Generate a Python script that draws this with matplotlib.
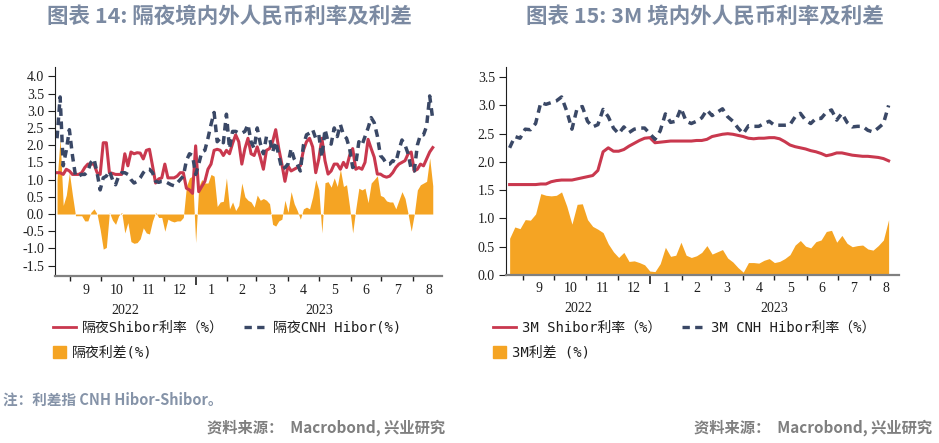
import numpy as np
import pandas as pd
import matplotlib
matplotlib.use("Agg")
import matplotlib.pyplot as plt
import matplotlib.dates as mdates
import matplotlib.transforms as mtransforms
from matplotlib.lines import Line2D
from matplotlib.patches import Patch
from matplotlib.font_manager import FontProperties
from matplotlib.ticker import NullFormatter

plt.rcParams['font.family'] = ['Noto Sans CJK SC', 'DejaVu Sans']

# overnight rates, one reading every 3 days from 2022-08-19
on_shibor = [1.2, 1.2, 1.15, 1.3, 1.25, 1.15, 1.15, 1.15, 1.2, 1.35,
             1.45, 1.45, 1.45, 1.2, 1.15, 2.07, 2.07, 1.2, 1.18, 1.15,
             1.15, 1.15, 1.75, 1.4, 1.8, 1.75, 1.78, 1.77, 1.6, 1.85,
             1.88, 1.4, 0.9, 1.02, 1.05, 1.45, 1.05, 1.05, 1.05, 1.1,
             1.2, 1.2, 0.75, 0.7, 0.6, 1.98, 0.65, 0.8, 0.95, 1.3,
             1.45, 1.85, 1.88, 1.85, 1.7, 1.85, 1.75, 2.05, 2.3, 2.1,
             1.45, 1.9, 2.2, 1.75, 1.7, 1.95, 1.65, 1.3, 1.85, 1.9,
             2.1, 2.45, 1.9, 1.45, 0.95, 1.4, 1.25, 1.3, 1.35, 1.4,
             1.85, 2.1, 2.2, 1.95, 1.2, 1.6, 2.2, 1.55, 1.16, 1.25,
             1.45, 1.45, 1.3, 1.5, 1.35, 1.7, 1.9, 1.3, 1.35, 1.3,
             1.5, 2.17, 1.9, 1.65, 1.16, 1.16, 1.1, 1.07, 1.1, 1.2,
             1.35, 1.45, 1.5, 1.55, 1.75, 1.8, 1.25, 1.3, 1.45, 1.4,
             1.6, 1.8, 1.93]
on_hibor = [2.2, 3.4, 1.4, 1.85, 2.45, 1.7, 1.1, 1.1, 1.15, 1.15,
            1.25, 1.5, 1.6, 1.2, 0.7, 1.05, 1.1, 1.25, 1.0, 0.85,
            1.1, 1.2, 1.2, 1.15, 1.0, 0.9, 0.95, 1.05, 1.2, 1.3,
            1.3, 1.2, 0.95, 0.92, 0.95, 0.95, 0.9, 0.85, 0.82, 0.9,
            1.0, 1.1, 1.55, 1.75, 1.7, 1.15, 1.45, 1.8, 1.85, 2.2,
            2.6, 2.95, 2.1, 2.2, 2.07, 2.9, 1.9, 2.4, 2.4, 2.35,
            2.35, 2.4, 2.6, 2.1, 1.9, 2.5, 2.05, 1.75, 2.25, 2.2,
            1.8, 2.1, 1.7, 1.3, 1.35, 1.45, 1.9, 1.6, 1.45, 1.25,
            2.0, 2.3, 2.35, 2.45, 2.2, 2.3, 1.65, 2.46, 2.1, 2.03,
            2.5, 2.25, 2.6, 2.3, 2.2, 1.9, 1.35, 1.45, 2.1, 2.0,
            2.25, 2.5, 2.8, 2.65, 2.27, 1.7, 1.6, 1.45, 1.45, 1.55,
            1.5, 1.85, 2.15, 2.0, 1.75, 1.3, 1.25, 2.0, 2.3, 2.3,
            2.55, 3.43, 2.75]

# 3M rates, one reading every 5 days from 2022-08-19
m3_shibor = [1.6, 1.6, 1.6, 1.6, 1.6, 1.6, 1.61, 1.61, 1.65, 1.67,
             1.68, 1.68, 1.68, 1.7, 1.72, 1.74, 1.76, 1.85, 2.18, 2.25,
             2.19, 2.19, 2.22, 2.28, 2.33, 2.38, 2.42, 2.43, 2.34, 2.35,
             2.36, 2.37, 2.37, 2.37, 2.37, 2.37, 2.38, 2.38, 2.4, 2.45,
             2.47, 2.49, 2.5, 2.49, 2.47, 2.45, 2.42, 2.41, 2.42, 2.42,
             2.43, 2.43, 2.41, 2.36, 2.3, 2.27, 2.25, 2.23, 2.2, 2.18,
             2.15, 2.11, 2.13, 2.16, 2.16, 2.14, 2.12, 2.11, 2.1, 2.1,
             2.09, 2.08, 2.06, 2.02]
m3_hibor = [2.25, 2.45, 2.42, 2.58, 2.57, 2.68, 3.05, 3.02, 3.05, 3.08,
            3.15, 2.9, 2.58, 2.95, 2.98, 2.72, 2.62, 2.66, 2.93, 2.8,
            2.6, 2.5, 2.62, 2.52, 2.58, 2.6, 2.6, 2.5, 2.4, 2.55,
            2.85, 2.7, 2.72, 2.95, 2.72, 2.68, 2.72, 2.78, 2.92, 2.82,
            2.88, 2.94, 2.8, 2.72, 2.6, 2.5, 2.64, 2.63, 2.63, 2.68,
            2.72, 2.65, 2.65, 2.65, 2.66, 2.8, 2.86, 2.74, 2.68, 2.77,
            2.77, 2.88, 2.92, 2.74, 2.86, 2.7, 2.62, 2.63, 2.63, 2.56,
            2.53, 2.6, 2.68, 3.0]

month_starts = pd.date_range("2022-09-01", "2023-08-01", freq="MS")
years = ["2022", "2023"]

on_dates = pd.date_range("2022-08-19", periods=len(on_shibor), freq="3D")
m3_dates = pd.date_range("2022-08-19", periods=len(m3_shibor), freq="5D")
on_spread = np.array(on_hibor) - np.array(on_shibor)
m3_spread = np.array(m3_hibor) - np.array(m3_shibor)

RED = '#c9384e'
NAVY = '#3a4866'
ORANGE = '#f5a423'
TXT = '#1e1e1e'

fig = plt.figure(figsize=(9.39, 4.43), dpi=100)
ax1 = fig.add_axes([55/939, 1-276/443, 387/939, 209/443])
ax2 = fig.add_axes([506/939, 1-275/443, 393/939, 208/443])


def draw(ax, dates, shibor, hibor, spread, xlim, ylim, yticks):
    ax.fill_between(dates, 0, spread, color=ORANGE, lw=0)
    ax.plot(dates, shibor, color=RED, lw=2.2)
    ax.plot(dates, hibor, color=NAVY, lw=2.5, linestyle=(0, (2.2, 1.6)))
    ax.set_xlim(pd.Timestamp(xlim[0]), pd.Timestamp(xlim[1]))
    ax.set_ylim(*ylim)
    ax.set_yticks(yticks)
    ax.set_yticklabels([f"{v:.1f}" for v in yticks], family='Liberation Serif',
                       fontsize=10, color=TXT)
    for s in ['top', 'right']:
        ax.spines[s].set_visible(False)
    ax.spines['left'].set_color(TXT)
    ax.spines['left'].set_linewidth(0.8)
    ax.spines['bottom'].set_color('#808080')
    ax.spines['bottom'].set_linewidth(1.6)
    ax.tick_params(axis='y', direction='out', length=5, width=0.8, pad=3, color=TXT)
    ax.xaxis.set_minor_locator(mdates.MonthLocator())
    ax.xaxis.set_major_locator(mdates.YearLocator())
    ax.xaxis.set_major_formatter(NullFormatter())
    ax.xaxis.set_minor_formatter(NullFormatter())
    ax.tick_params(axis='x', which='minor', direction='out', length=3.5, width=1, color=TXT)
    ax.tick_params(axis='x', which='major', direction='out', length=6.5, width=1.2, color=TXT)

    trans = mtransforms.blended_transform_factory(ax.transData, ax.transAxes)
    for m in month_starts:
        mid = mdates.date2num(m) + (mdates.date2num(m + pd.offsets.MonthBegin(1)) - mdates.date2num(m)) / 2
        ax.annotate(str(m.month), xy=(mid, 0), xycoords=trans, xytext=(0, -14),
                    textcoords='offset pixels', ha='center', va='center',
                    family='Liberation Serif', fontsize=10, color=TXT)
    x0, x1 = ax.get_xlim()
    jan = mdates.date2num(pd.Timestamp("2023-01-01"))
    for yr, c in zip(years, [(x0 + jan) / 2, (jan + x1) / 2]):
        ax.annotate(yr, xy=(c, 0), xycoords=trans, xytext=(0, -34),
                    textcoords='offset pixels', ha='center', va='center',
                    family='Liberation Serif', fontsize=10, color=TXT)


draw(ax1, on_dates, on_shibor, on_hibor, on_spread,
     ("2022-08-17", "2023-08-29"), (-1.8, 4.27), np.arange(-1.5, 4.01, 0.5))
draw(ax2, m3_dates, m3_shibor, m3_hibor, m3_spread,
     ("2022-08-15 12:00", "2023-08-29"), (0, 3.68), np.arange(0, 3.51, 0.5))

# titles
title_color = '#7b8aa2'
fig.text(229/939, 1-16/443, "图表 14: 隔夜境内外人民币利率及利差", ha='center', va='center',
         fontsize=15.5, fontweight='bold', color=title_color)
fig.text(705/939, 1-16/443, "图表 15: 3M 境内外人民币利率及利差", ha='center', va='center',
         fontsize=15.5, fontweight='bold', color=title_color)

# legends
lprop = FontProperties(family=['DejaVu Sans Mono', 'Noto Sans CJK SC'], size=10)
for x, labs in [(53, ["隔夜Shibor利率（%）", "隔夜CNH Hibor(%)", "隔夜利差(%)"]),
                (493, ["3M Shibor利率（%）", "3M CNH Hibor利率（%）", "3M利差 (%)"])]:
    h1 = Line2D([], [], color=RED, lw=2)
    h2 = Line2D([], [], color=NAVY, lw=2.4, linestyle=(0, (2.2, 1.6)))
    lg = fig.legend([h1, h2], labs[:2], loc='center left', bbox_to_anchor=(x/939, 1-328/443),
                    ncol=2, frameon=False, borderpad=0, borderaxespad=0, handlelength=1.65,
                    handletextpad=0.45, columnspacing=1.45, prop=lprop, labelcolor=TXT)
    lg2 = fig.legend([Patch(color=ORANGE)], labs[2:], loc='center left',
                     bbox_to_anchor=(x/939, 1-353/443), frameon=False, borderpad=0,
                     borderaxespad=0, handlelength=0.9, handleheight=0.9,
                     handletextpad=0.45, prop=lprop, labelcolor=TXT)

# footnotes
fig.text(3/939, 1-400/443, "注：利差指 CNH Hibor-Shibor。", ha='left', va='center',
         fontsize=10.5, fontweight='bold', color='#8593a8')
for xr in [445, 932]:
    fig.text(xr/939, 1-428/443, "资料来源：  Macrobond, 兴业研究", ha='right', va='center',
             fontsize=11, fontweight='bold', color='#7f7f7f')

fig.savefig('out.png', dpi=100)
